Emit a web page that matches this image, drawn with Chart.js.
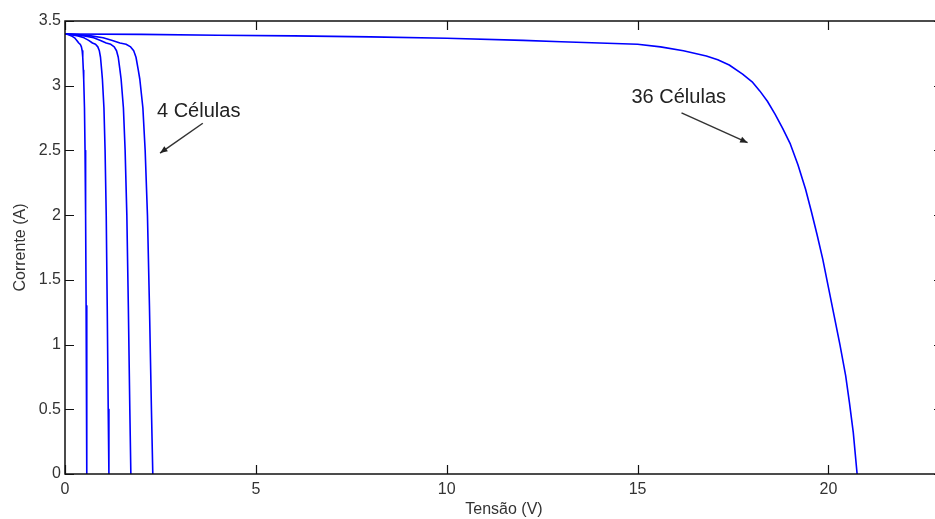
<!DOCTYPE html>
<html>
<head>
<meta charset="utf-8">
<script src="https://cdn.jsdelivr.net/npm/chart.js@4"></script>
<style>
  html, body { margin: 0; padding: 0; background: #fff; overflow: hidden; }
  #wrap { width: 950px; height: 519px; }
</style>
</head>
<body>
<div id="wrap"><canvas id="ivChart" width="950" height="519"></canvas></div>
<script>
// axis ticks
const xTickValues = [0, 5, 10, 15, 20];
const xTickLabels = ['0', '5', '10', '15', '20'];
const yTickValues = [0, 0.5, 1, 1.5, 2, 2.5, 3, 3.5];
const yTickLabels = ['0', '0.5', '1', '1.5', '2', '2.5', '3', '3.5'];

// curve names
const curveNames = ['1 célula', '2 células', '3 células', '4 células', '36 células'];

// I-V curves (tensão V, corrente A)
const ampsSmall = [3.40, 3.395, 3.385, 3.37, 3.35, 3.33, 3.32, 3.30, 3.27, 3.22, 3.12, 3.05, 2.83, 2.50, 2.00, 1.30, 0.50, 0];
const volts1 = [0, 0.08, 0.17, 0.25, 0.31, 0.36, 0.40, 0.43, 0.45, 0.465, 0.48, 0.49, 0.51, 0.525, 0.54, 0.553, 0.566, 0.575];
const volts2 = [0, 0.16, 0.34, 0.50, 0.62, 0.72, 0.80, 0.86, 0.90, 0.93, 0.96, 0.98, 1.02, 1.05, 1.08, 1.106, 1.132, 1.15];
const volts3 = [0, 0.24, 0.51, 0.75, 0.93, 1.08, 1.20, 1.29, 1.35, 1.395, 1.44, 1.47, 1.53, 1.575, 1.62, 1.659, 1.698, 1.725];
const volts4 = [0, 0.32, 0.68, 1.00, 1.24, 1.44, 1.60, 1.72, 1.80, 1.86, 1.92, 1.96, 2.04, 2.10, 2.16, 2.212, 2.264, 2.30];

const volts36 = [0, 2, 4, 6, 8, 10, 12, 13, 14, 15, 15.6, 16.2, 16.8, 17.1, 17.4, 17.75, 18.0, 18.2, 18.4, 18.6, 18.8,
                 19.0, 19.2, 19.4, 19.55, 19.7, 19.85, 20.0, 20.15, 20.3, 20.45, 20.55, 20.65, 20.75];
const amps36  = [3.40, 3.397, 3.39, 3.385, 3.377, 3.367, 3.35, 3.34, 3.33, 3.32, 3.30, 3.27, 3.23, 3.20, 3.16, 3.09, 3.03, 2.96, 2.88, 2.78, 2.67,
                 2.55, 2.39, 2.20, 2.03, 1.85, 1.66, 1.44, 1.22, 1.00, 0.76, 0.55, 0.32, 0];

// text notes with arrows (data units)
const notes = [
  { text: '4 Células', x: 2.41, y: 2.80, from: [3.61, 2.71], to: [2.49, 2.48] },
  { text: '36 Células', x: 14.84, y: 2.91, from: [16.15, 2.79], to: [17.88, 2.56] }
];

const BLUE = '#0000ff';
const FONT = "'Liberation Sans', Arial, sans-serif";

function toPoints(xs, ys) {
  return xs.map((v, i) => ({ x: v, y: ys[i] }));
}

const curves = [
  [volts1, ampsSmall], [volts2, ampsSmall], [volts3, ampsSmall], [volts4, ampsSmall], [volts36, amps36]
];

const datasets = curves.map((c, i) => ({
  label: curveNames[i],
  data: toPoints(c[0], c[1]),
  showLine: true,
  borderColor: BLUE,
  borderWidth: 1.6,
  borderJoinStyle: 'round',
  pointRadius: 0,
  tension: 0,
  fill: false
}));

// MATLAB style box with inward ticks, plus the text notes
const matlabFrame = {
  id: 'matlabFrame',
  afterDatasetsDraw(chart) {
    const ctx = chart.ctx;
    const a = chart.chartArea;
    const xs = chart.scales.x;
    const ys = chart.scales.y;
    const tick = 9;

    ctx.save();
    ctx.strokeStyle = '#111';
    ctx.lineWidth = 1.5;
    ctx.strokeRect(a.left, a.top, a.right - a.left, a.bottom - a.top);

    ctx.lineWidth = 1.2;
    ctx.beginPath();
    xTickValues.forEach(v => {
      const px = Math.round(xs.getPixelForValue(v)) + 0.5;
      ctx.moveTo(px, a.bottom); ctx.lineTo(px, a.bottom - tick);
      ctx.moveTo(px, a.top); ctx.lineTo(px, a.top + tick);
    });
    yTickValues.forEach(v => {
      const py = Math.round(ys.getPixelForValue(v)) + 0.5;
      ctx.moveTo(a.left, py); ctx.lineTo(a.left + tick, py);
      ctx.moveTo(a.right, py); ctx.lineTo(a.right - tick, py);
    });
    ctx.stroke();

    // notes
    ctx.fillStyle = '#222';
    ctx.strokeStyle = '#333';
    ctx.font = '20px ' + FONT;
    ctx.textAlign = 'left';
    ctx.textBaseline = 'middle';
    notes.forEach(n => {
      ctx.fillText(n.text, xs.getPixelForValue(n.x), ys.getPixelForValue(n.y));
      const x0 = xs.getPixelForValue(n.from[0]), y0 = ys.getPixelForValue(n.from[1]);
      const x1 = xs.getPixelForValue(n.to[0]), y1 = ys.getPixelForValue(n.to[1]);
      ctx.lineWidth = 1.5;
      ctx.beginPath();
      ctx.moveTo(x0, y0); ctx.lineTo(x1, y1);
      ctx.stroke();
      const ang = Math.atan2(y1 - y0, x1 - x0);
      const len = 8, spread = 0.4;
      ctx.beginPath();
      ctx.moveTo(x1, y1);
      ctx.lineTo(x1 - len * Math.cos(ang - spread), y1 - len * Math.sin(ang - spread));
      ctx.lineTo(x1 - len * Math.cos(ang + spread), y1 - len * Math.sin(ang + spread));
      ctx.closePath();
      ctx.fillStyle = '#222';
      ctx.fill();
    });
    ctx.restore();
  }
};

const chart = new Chart(document.getElementById('ivChart'), {
  type: 'scatter',
  data: { datasets: datasets },
  options: {
    responsive: false,
    animation: false,
    layout: { padding: { left: 0, top: 21, right: 7, bottom: 0 } },
    plugins: {
      legend: { display: false },
      tooltip: { enabled: false }
    },
    scales: {
      x: {
        type: 'linear',
        min: 0,
        max: 23,
        grid: { display: false, drawTicks: false, tickLength: 0 },
        border: { display: false },
        afterBuildTicks: s => { s.ticks = xTickValues.map(v => ({ value: v })); },
        afterFit: s => { s.height = 45; },
        ticks: {
          color: '#333',
          padding: 6,
          maxRotation: 0,
          font: { family: FONT, size: 16 },
          callback: (v, i) => xTickLabels[i]
        },
        title: {
          display: true,
          text: 'Tensão (V)',
          color: '#333',
          padding: { top: 0, bottom: 0 },
          font: { family: FONT, size: 16 }
        }
      },
      y: {
        type: 'linear',
        min: 0,
        max: 3.5,
        grid: { display: false, drawTicks: false, tickLength: 0 },
        border: { display: false },
        afterBuildTicks: s => { s.ticks = yTickValues.map(v => ({ value: v })); },
        afterFit: s => { s.width = 65; },
        ticks: {
          color: '#333',
          padding: 4,
          font: { family: FONT, size: 16 },
          callback: (v, i) => yTickLabels[i]
        },
        title: {
          display: true,
          text: 'Corrente (A)',
          color: '#333',
          padding: { top: 11, bottom: 0 },
          font: { family: FONT, size: 16 }
        }
      }
    }
  },
  plugins: [matlabFrame]
});
</script>
</body>
</html>
